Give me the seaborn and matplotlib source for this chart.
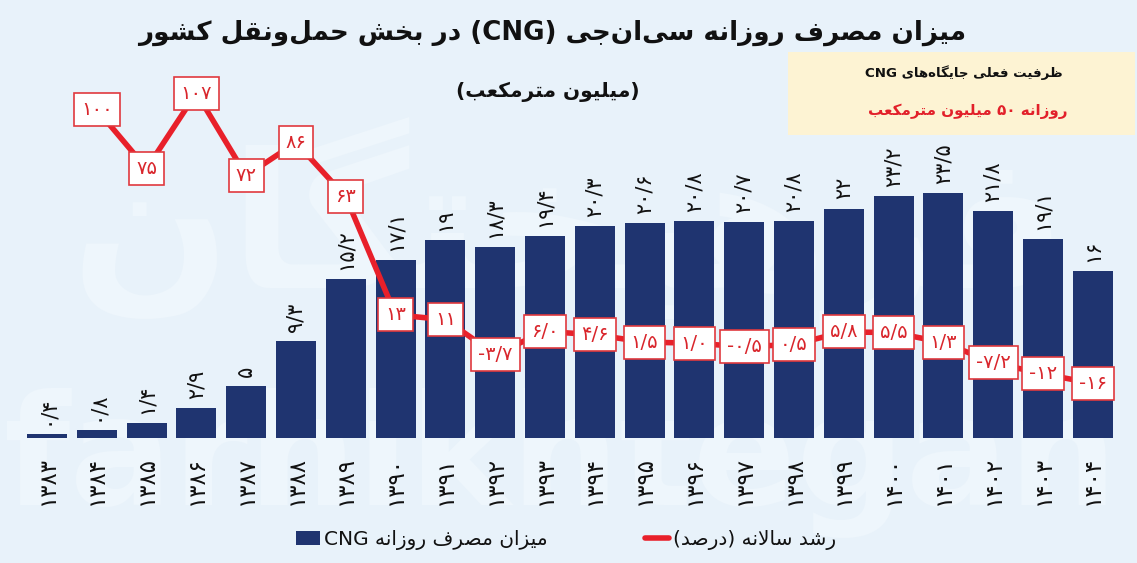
# cng_chart.py
#================================================================
import re
import numpy as np
import pandas as pd
import seaborn as sns
import matplotlib.pyplot as plt
from matplotlib.patches import Rectangle
#================================================================

years = ["۱۳۸۳", "۱۳۸۴", "۱۳۸۵", "۱۳۸۶", "۱۳۸۷", "۱۳۸۸", "۱۳۸۹", "۱۳۹۰", "۱۳۹۱", "۱۳۹۲", "۱۳۹۳",
         "۱۳۹۴", "۱۳۹۵", "۱۳۹۶", "۱۳۹۷", "۱۳۹۸", "۱۳۹۹", "۱۴۰۰", "۱۴۰۱", "۱۴۰۲", "۱۴۰۳", "۱۴۰۴"]
consumption = [0.4, 0.8, 1.4, 2.9, 5, 9.3, 15.2, 17.1, 19, 18.3, 19.4,
               20.3, 20.6, 20.8, 20.7, 20.8, 22, 23.2, 23.5, 21.8, 19.1, 16]
consumption_labels = ["۰/۴", "۰/۸", "۱/۴", "۲/۹", "۵", "۹/۳", "۱۵/۲", "۱۷/۱", "۱۹", "۱۸/۳", "۱۹/۴",
                      "۲۰/۳", "۲۰/۶", "۲۰/۸", "۲۰/۷", "۲۰/۸", "۲۲", "۲۳/۲", "۲۳/۵", "۲۱/۸", "۱۹/۱", "۱۶"]
# growth starts one year later than consumption
growth = [100, 75, 107, 72, 86, 63, 13, 11, -3.7, 6.0, 4.6,
          1.5, 1.0, -0.5, 0.5, 5.8, 5.5, 1.3, -7.2, -12, -16]
growth_labels = ["۱۰۰", "۷۵", "۱۰۷", "۷۲", "۸۶", "۶۳", "۱۳", "۱۱", "-۳/۷", "۶/۰", "۴/۶",
                 "۱/۵", "۱/۰", "-۰/۵", "۰/۵", "۵/۸", "۵/۵", "۱/۳", "-۷/۲", "-۱۲", "-۱۶"]

title = "میزان مصرف روزانه سی\u200cان\u200cجی (CNG) در بخش حمل\u200cونقل کشور"
subtitle = "(میلیون مترمکعب)"
note_top = "ظرفیت فعلی جایگاه\u200cهای CNG"
note_bottom = "روزانه ۵۰ میلیون مترمکعب"
bar_legend = "میزان مصرف روزانه CNG"
line_legend = "رشد سالانه (درصد)"
watermark_fa = "فرهیختگان"
watermark_en = "farhikhtegan"

BG = "#E8F2FA"
NAVY = "#1F3470"
RED = "#E8202A"
PALE = "#EEF6FC"

#================================================================
# matplotlib does no Arabic shaping, so pick the joined glyph forms by hand
# letter: isolated, final, initial, medial
FORMS = {
    "ا": (0xFE8D, 0xFE8E), "آ": (0xFE81, 0xFE82), "د": (0xFEA9, 0xFEAA), "ر": (0xFEAD, 0xFEAE),
    "ز": (0xFEAF, 0xFEB0), "و": (0xFEED, 0xFEEE),
    "ب": (0xFE8F, 0xFE90, 0xFE91, 0xFE92), "ت": (0xFE95, 0xFE96, 0xFE97, 0xFE98),
    "ج": (0xFE9D, 0xFE9E, 0xFE9F, 0xFEA0), "ح": (0xFEA1, 0xFEA2, 0xFEA3, 0xFEA4),
    "خ": (0xFEA5, 0xFEA6, 0xFEA7, 0xFEA8), "س": (0xFEB1, 0xFEB2, 0xFEB3, 0xFEB4),
    "ش": (0xFEB5, 0xFEB6, 0xFEB7, 0xFEB8), "ص": (0xFEB9, 0xFEBA, 0xFEBB, 0xFEBC),
    "ظ": (0xFEC5, 0xFEC6, 0xFEC7, 0xFEC8), "ع": (0xFEC9, 0xFECA, 0xFECB, 0xFECC),
    "ف": (0xFED1, 0xFED2, 0xFED3, 0xFED4), "ق": (0xFED5, 0xFED6, 0xFED7, 0xFED8),
    "ک": (0xFB8E, 0xFB8F, 0xFB90, 0xFB91), "گ": (0xFB92, 0xFB93, 0xFB94, 0xFB95),
    "ل": (0xFEDD, 0xFEDE, 0xFEDF, 0xFEE0), "م": (0xFEE1, 0xFEE2, 0xFEE3, 0xFEE4),
    "ن": (0xFEE5, 0xFEE6, 0xFEE7, 0xFEE8), "ه": (0xFEE9, 0xFEEA, 0xFEEB, 0xFEEC),
    "ی": (0xFBFC, 0xFBFD, 0xFBFE, 0xFBFF),
}


def shape_word(word):
    """Return one Persian run as joined glyphs, still in logical order."""
    out = []
    i = 0
    prev_joins = False
    while i < len(word):
        ch = word[i]
        if ch == "\u200c":
            prev_joins = False
            i += 1
            continue
        if ch not in FORMS:
            out.append(ch)
            prev_joins = False
            i += 1
            continue
        if ch == "ل" and word[i + 1:i + 2] == "ا":
            out.append(chr(0xFEFC if prev_joins else 0xFEFB))
            prev_joins = False
            i += 2
            continue
        forms = FORMS[ch]
        next_letter = word[i + 1] if i + 1 < len(word) else ""
        next_joins = len(forms) == 4 and next_letter in FORMS
        if prev_joins and next_joins:
            out.append(chr(forms[3]))
        elif prev_joins:
            out.append(chr(forms[1]))
        elif next_joins:
            out.append(chr(forms[2]))
        else:
            out.append(chr(forms[0]))
        prev_joins = next_joins
        i += 1
    return "".join(out)


def fa(text):
    """Shape a string and put it in visual order for left-to-right drawing."""
    shaped = shape_word(text)
    parts = re.split(r"([A-Za-z0-9۰-۹/]+)", shaped)
    swap = str.maketrans("()", ")(")
    out = []
    for part in reversed(parts):
        if re.fullmatch(r"[A-Za-z0-9۰-۹/]+", part):
            out.append(part)
        else:
            out.append(part[::-1].translate(swap))
    return "".join(out)


#================================================================
sns.set_theme(style="white")
plt.rcParams["font.family"] = ["DejaVu Sans"]

df_bars = pd.DataFrame({"year": years, "consumption": consumption})
df_line = pd.DataFrame({"pos": np.arange(len(years))[1:], "growth": growth})

fig = plt.figure(figsize=(11.37, 5.63), dpi=100, facecolor=BG)

# background watermark, behind the axes
fig.text(0.5, 0.60, fa(watermark_fa), fontsize=135, fontweight="bold", color=PALE,
         ha="center", va="center", zorder=-2)
fig.text(0.493, 1 - 505 / 563, watermark_en, fontsize=110, fontweight="bold", color=PALE,
         ha="center", va="baseline", zorder=-2)

ax = fig.add_axes([0, 125 / 563, 1, 438 / 563])
ax.patch.set_visible(False)

sns.barplot(data=df_bars, x="year", y="consumption", color=NAVY, saturation=1, width=0.8,
            linewidth=0, ax=ax)
ax.bar_label(ax.containers[0], labels=consumption_labels, rotation=90, fontsize=15,
             padding=6.5, color="#111111")
ax.set_xlim(-47 / 49.8, (1137 - 47) / 49.8)
ax.set_ylim(0, 41.99)
ax.set_xlabel("")
ax.set_ylabel("")
ax.set_yticks([])
ax.tick_params(axis="x", length=0, pad=13, labelsize=16.5, labelrotation=90, labelcolor="#111111")
sns.despine(ax=ax, left=True, bottom=True, right=True, top=True)

# growth line has its own linear scale
ax2 = ax.twinx()
ax2.patch.set_visible(False)
sns.lineplot(data=df_line, x="pos", y="growth", color=RED, linewidth=4, ax=ax2, legend=False)
ax2.set_ylim(-39.15, 146.4)
ax2.set_ylabel("")
ax2.set_yticks([])
sns.despine(ax=ax2, left=True, bottom=True, right=True, top=True)

for x, y, lab in zip(df_line["pos"], df_line["growth"], growth_labels):
    ax2.text(x, y, lab, color="#D9262C", fontsize=14, ha="center", va="center", zorder=5,
             bbox=dict(boxstyle="square,pad=0.36", facecolor="white", edgecolor="#E0393E", linewidth=1.2))

# note box, top right
fig.add_artist(Rectangle((788 / 1137, 1 - 135 / 563), 347 / 1137, 83 / 563, transform=fig.transFigure,
                         facecolor="#FDF3D3", edgecolor="none", zorder=1))
fig.text(964 / 1137, 1 - 73 / 563, fa(note_top), fontsize=9.6, fontweight="bold", color="#111111",
         ha="center", va="center", zorder=2)
fig.text(968 / 1137, 1 - 111 / 563, fa(note_bottom), fontsize=10.9, fontweight="bold", color="#E2202A",
         ha="center", va="center", zorder=2)

fig.text(552 / 1137, 1 - 33 / 563, fa(title), fontsize=18.8, fontweight="bold", color="#111111",
         ha="center", va="center", zorder=2)
fig.text(548 / 1137, 1 - 92 / 563, fa(subtitle), fontsize=14.5, fontweight="bold", color="#111111",
         ha="center", va="center", zorder=2)

handles = ax.containers[0].patches[:1] + ax2.get_lines()[:1]
leg = ax2.legend(handles, [fa(bar_legend), fa(line_legend)], ncol=2, frameon=False, fontsize=14.5,
                 loc="center", bbox_to_anchor=(566 / 1137, 1 - 540 / 563), bbox_transform=fig.transFigure,
                 handlelength=1.2, handletextpad=0.2, columnspacing=4.8)
for text in leg.get_texts():
    text.set_color("#111111")

fig.savefig("out.png", dpi=100, facecolor=BG)
